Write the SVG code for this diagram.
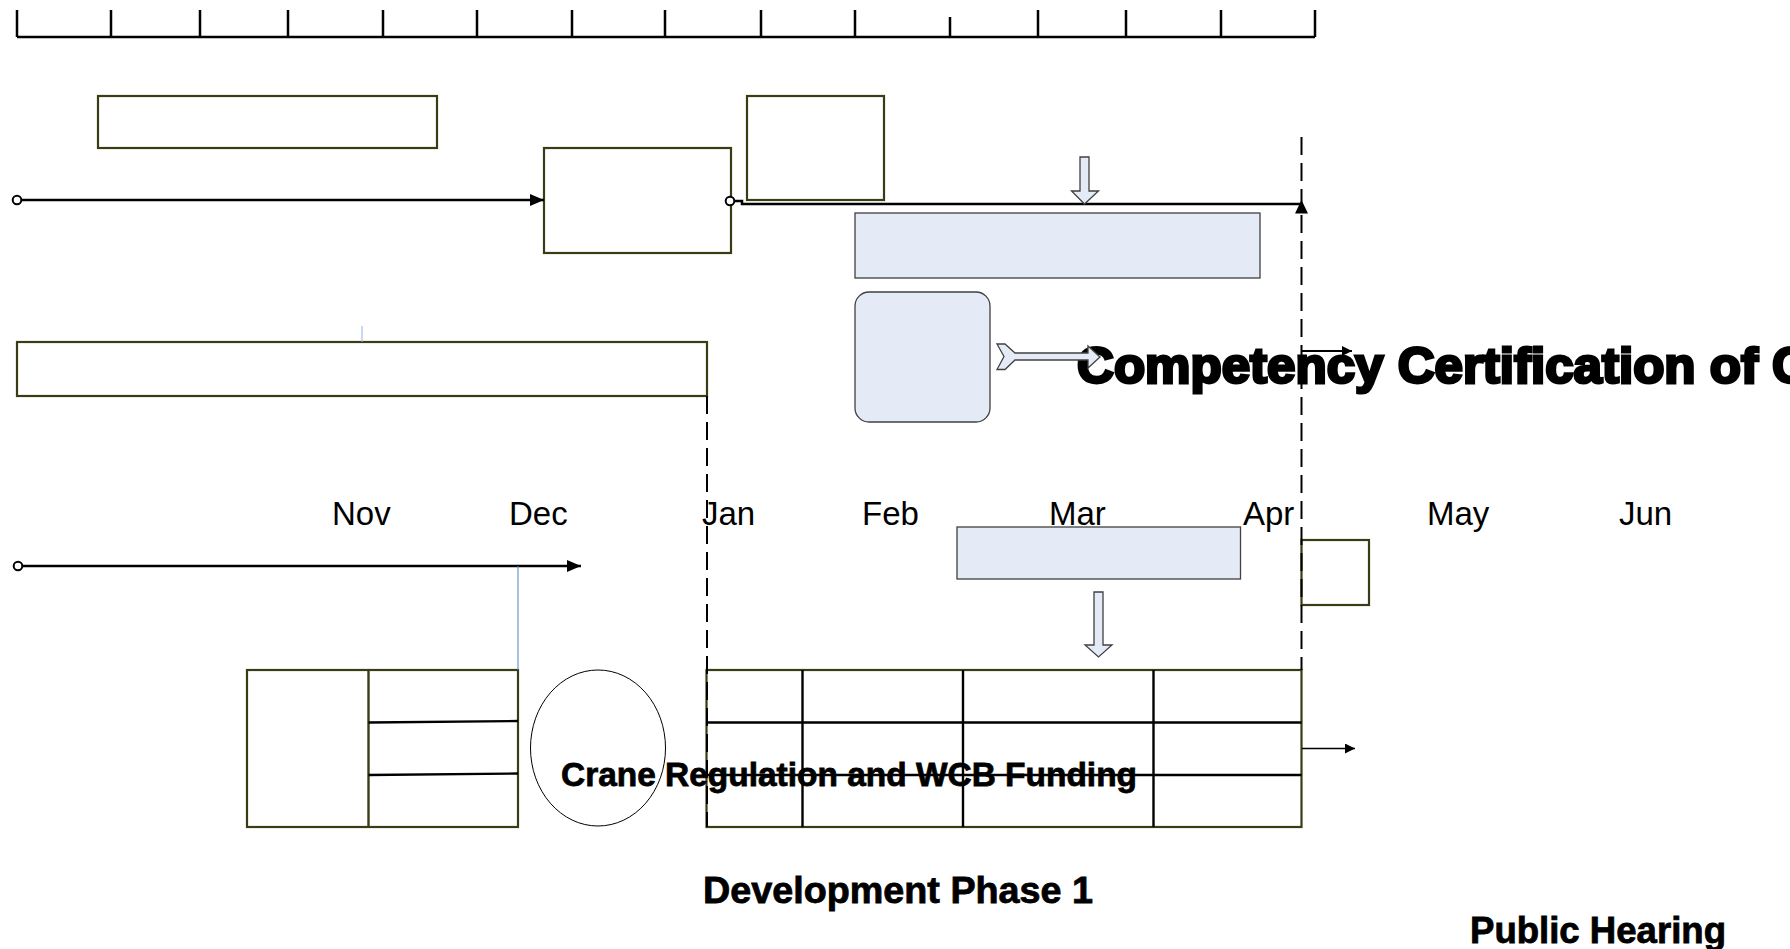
<svg xmlns="http://www.w3.org/2000/svg" width="1790" height="949" viewBox="0 0 1790 949">
<style>
.olive{fill:#fff;stroke:#3b3b14;stroke-width:2.2}
.blue{fill:#e5ebf6;stroke:#404040;stroke-width:1.3}
.ln{stroke:#000;stroke-width:2.5;fill:none}
.grid{stroke:#000;stroke-width:2.4;fill:none}
.dash{stroke:#000;stroke-width:2;fill:none;stroke-dasharray:18 8}
.month{font-family:"Liberation Sans",Arial,sans-serif;font-size:33px;fill:#000}
.bold{font-family:"Liberation Sans",Arial,sans-serif;font-weight:bold;fill:#000}
.thin{stroke:#4f81bd;stroke-width:1;fill:none}
</style>
<defs>
<marker id="arr" viewBox="0 0 14 12" refX="14" refY="6" markerWidth="14" markerHeight="12" markerUnits="userSpaceOnUse" orient="auto"><path d="M0,0 L14,6 L0,12 z" fill="#000"/></marker>
<marker id="arrs" viewBox="0 0 10 10" refX="10" refY="5" markerWidth="10" markerHeight="10" markerUnits="userSpaceOnUse" orient="auto"><path d="M0,0 L10,5 L0,10 z" fill="#000"/></marker>
<marker id="dot" viewBox="-6 -6 12 12" refX="0" refY="0" markerWidth="12" markerHeight="12" markerUnits="userSpaceOnUse"><circle r="4.3" fill="#fff" stroke="#000" stroke-width="2"/></marker>
</defs>
<rect width="1790" height="949" fill="#fff"/>

<g id="ruler">
<path class="ln" d="M17,37 H1315 M17,10 V37 M111,10 V37 M200,10 V37 M288,10 V37 M383,10 V37 M477,10 V37 M572,10 V37 M665,10 V37 M761,10 V37 M855,10 V37 M950,17 V37 M1038,10 V37 M1126,10 V37 M1221,10 V37 M1315,10 V37"/>
</g>

<g id="months">
<text class="month" x="332" y="525">Nov</text>
<text class="month" x="509" y="525">Dec</text>
<text class="month" x="702" y="525">Jan</text>
<text class="month" x="862" y="525">Feb</text>
<text class="month" x="1049" y="525">Mar</text>
<text class="month" x="1243" y="525">Apr</text>
<text class="month" x="1427" y="525">May</text>
<text class="month" x="1619" y="525">Jun</text>
</g>

<g id="boxA"><rect class="olive" x="98" y="96" width="339" height="52"/></g>
<g id="boxB"><rect class="olive" x="544" y="148" width="187" height="105"/></g>
<g id="boxC"><rect class="olive" x="747" y="96" width="137" height="104"/></g>
<g id="boxD"><rect class="blue" x="855" y="213" width="405" height="65"/></g>
<g id="boxE"><rect class="olive" x="17" y="342" width="690" height="54"/></g>
<g id="boxF"><rect class="blue" x="855" y="292" width="135" height="130" rx="14"/></g>
<g id="boxG"><rect class="blue" x="957" y="527" width="283.5" height="52"/></g>
<g id="boxH"><rect class="olive" x="1301.5" y="540" width="67.5" height="65"/></g>

<g id="tableLeft">
<rect class="olive" x="247" y="670" width="271" height="157"/>
<path d="M368.5,670 V827" stroke="#3b3b14" stroke-width="2.4"/>
<path class="grid" d="M368.5,722.5 L518,721 M368.5,775 L518,773.5"/>
</g>

<g id="ellipse"><ellipse cx="598" cy="748" rx="67.5" ry="78" fill="#fff" stroke="#000" stroke-width="1"/></g>

<g id="tableRight">
<rect class="olive" x="706.5" y="670" width="595" height="157"/>
<path class="grid" d="M802.5,670 V827 M963,670 V827 M1153.5,670 V827 M706.5,722.5 H1301.5 M706.5,775 H1301.5"/>
</g>

<g id="labelCompetency"><text class="bold" x="1077" y="383" font-size="50" stroke="#000" stroke-width="3" textLength="732" lengthAdjust="spacingAndGlyphs">Competency Certification of C</text></g>
<g id="labelCrane"><text class="bold" x="561" y="786" font-size="34" stroke="#000" stroke-width="0.8" textLength="576" lengthAdjust="spacingAndGlyphs">Crane Regulation and WCB Funding</text></g>
<g id="labelDev"><text class="bold" x="703" y="903" font-size="37" stroke="#000" stroke-width="0.8" textLength="390" lengthAdjust="spacingAndGlyphs">Development Phase 1</text></g>
<g id="labelPublic"><text class="bold" x="1470" y="943" font-size="37" stroke="#000" stroke-width="0.8" textLength="256" lengthAdjust="spacingAndGlyphs">Public Hearing</text></g>

<g id="connectors">
<path class="dash" d="M707,396 V827"/>
<path class="dash" d="M1301.5,137 V670"/>
<path class="ln" d="M17,200 H544" marker-start="url(#dot)" marker-end="url(#arr)"/>
<path class="ln" d="M730,201 H742 V204 H1301.5" marker-start="url(#dot)"/>
<polygon points="1295,213.5 1301.5,200 1308,213.5" fill="#000"/>
<path class="ln" d="M18,566 H581" marker-start="url(#dot)" marker-end="url(#arr)"/>
<path class="thin" d="M518,566 V670"/>
<path d="M362,326 V342" stroke="#8eb4e3" stroke-width="1"/>
<path d="M1302,351 H1352" stroke="#000" stroke-width="1.8" marker-end="url(#arrs)"/>
<path d="M1302,748.5 H1355" stroke="#000" stroke-width="1.3" marker-end="url(#arrs)"/>
<polygon class="blue" stroke-width="1" points="1080,157 1089,157 1089,191 1098.5,191 1084.5,204 1071.5,191 1080,191"/>
<polygon class="blue" stroke-width="1" points="1094,592 1103,592 1103,645 1112,645 1098.5,657 1085,645 1094,645"/>
<polygon class="blue" stroke-width="1" points="997,344 1005,344 1015,353 1088,353 1088,346 1100,357 1088,368 1088,360 1015,360 1005,369.5 997,369.5 1004,356.5"/>
</g>
</svg>
